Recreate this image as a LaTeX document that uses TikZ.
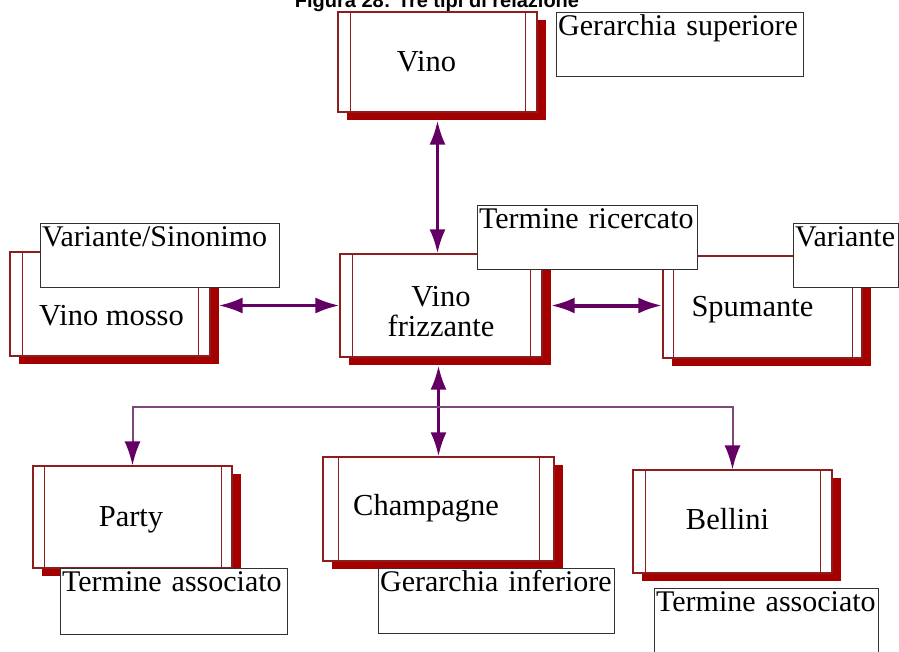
\documentclass[tikz,border=0pt]{standalone}
\usepackage{fontspec}
\setmainfont{Liberation Serif}
\newfontfamily\headfont{Liberation Sans}
\usetikzlibrary{arrows.meta,shadows,calc}
\definecolor{boxline}{RGB}{140,30,30}
\definecolor{boxshade}{RGB}{165,0,0}
\definecolor{linkpurple}{RGB}{100,0,100}
\definecolor{branchpurple}{RGB}{125,70,125}
\definecolor{tagline}{RGB}{50,50,50}

\begin{document}
\begin{tikzpicture}[x=1pt,y=-1pt,
  sidebar/.store in=\sidebarw, sidebar=12pt,
  termbox/.style={draw=boxline, line width=1.2pt, fill=white, inner sep=0pt,
    drop shadow={shadow xshift=9pt, shadow yshift=-8pt, opacity=1, fill=boxshade},
    path picture={
      \draw[boxline, line width=1pt]
        ([xshift=\sidebarw]path picture bounding box.north west) --
        ([xshift=\sidebarw]path picture bounding box.south west)
        ([xshift=-\sidebarw]path picture bounding box.north east) --
        ([xshift=-\sidebarw]path picture bounding box.south east);
    }},
  termtext/.style={font=\fontsize{30.5}{30}\selectfont, align=center, inner sep=0pt},
  tag/.style={draw=tagline, line width=1.3pt, fill=white, anchor=north west,
    inner xsep=1.5pt, inner ysep=0pt, text height=23pt, text depth=41pt,
    font=\fontsize{30}{30}\selectfont},
  link/.style={draw=linkpurple, line width=3pt, {Latex[length=24pt,width=16pt]}-{Latex[length=24pt,width=16pt]}},
  branch/.style={draw=branchpurple, line width=2pt, -{Latex[length=24pt,width=16pt,color=linkpurple]}}
]
\clip (0,0) rectangle (899,651);
\fill[white] (0,0) rectangle (899,651);

% title line
\node[font=\headfont\fontsize{20}{24}\selectfont\bfseries, anchor=base, inner sep=0pt]
  (title) at (437,7.5) {Figura 28: Tre tipi di relazione};

% term boxes
\node[termbox, minimum width=199, minimum height=100] (vino) at (437.5,62) {};
\node[termbox, minimum width=202, minimum height=103] (frizz) at (441,305.5) {};
\node[termbox, minimum width=200, minimum height=104] (mosso) at (110,304) {};
\node[termbox, minimum width=199, minimum height=102, sidebar=10pt] (spum) at (762.5,307) {};
\node[termbox, minimum width=199, minimum height=102, sidebar=11pt] (party) at (132.5,517) {};
\node[termbox, minimum width=231, minimum height=104, sidebar=15pt] (champ) at (438.5,509) {};
\node[termbox, minimum width=199, minimum height=103] (bellini) at (732.5,521.5) {};

% term names
\node[termtext] (vino-t) at ([xshift=-11pt]vino.center) {Vino};
\node[termtext] (frizz-t) at ([yshift=-6.5pt]frizz.center) {Vino\\frizzante};
\node[termtext] (mosso-t) at ([xshift=1.5pt,yshift=-12pt]mosso.center) {Vino mosso};
\node[termtext] (spum-t) at ([xshift=-10pt,yshift=-2.5pt]spum.center) {Spumante};
\node[termtext] (party-t) at ([xshift=-1.5pt,yshift=-2.5pt]party.center) {Party};
\node[termtext] (champ-t) at ([xshift=-12.5pt,yshift=1pt]champ.center) {Champagne};
\node[termtext] (bellini-t) at ([xshift=-5pt,yshift=2.5pt]bellini.center) {Bellini};

% relations
\draw[link] ($(vino.south)+(0,8)$) -- (vino.south |- frizz.north);
\draw[link] ($(mosso.east |- frizz.west)+(8,0)$) -- (frizz.west);
\draw[link, line width=4pt] ($(frizz.east)+(8,0)$) -- (spum.west |- frizz.east);
\draw[link] ($(champ.north |- frizz.south)+(0,8)$) -- (champ.north);
\coordinate (fork) at ($(champ.north |- frizz.south)!0.5!(champ.north)$);
\draw[branch] (fork) -| (party.north);
\draw[branch] (fork) -| (bellini.north);

% relation tags: the box width is fixed, the text sits at its top left
\node[tag, text width=244] (gsup) at (556,12) {\rlap{Gerarchia superiore}};
\node[tag, text width=217] (tric) at (477,205) {\rlap{Termine ricercato}};
\node[tag, text width=236] (vsin) at (40,223) {\rlap{Variante/Sinonimo}};
\node[tag, text width=102] (var) at (793,223) {\rlap{Variante}};
\node[tag, text width=224, text depth=43pt] (tassl) at (60,568) {\rlap{Termine associato}};
\node[tag, text width=233, text depth=42pt] (ginf) at (378,568) {\rlap{Gerarchia inferiore}};
\node[tag, text width=221, text depth=70pt] (tassr) at (654,588) {\rlap{Termine associato}};
\end{tikzpicture}
\end{document}
